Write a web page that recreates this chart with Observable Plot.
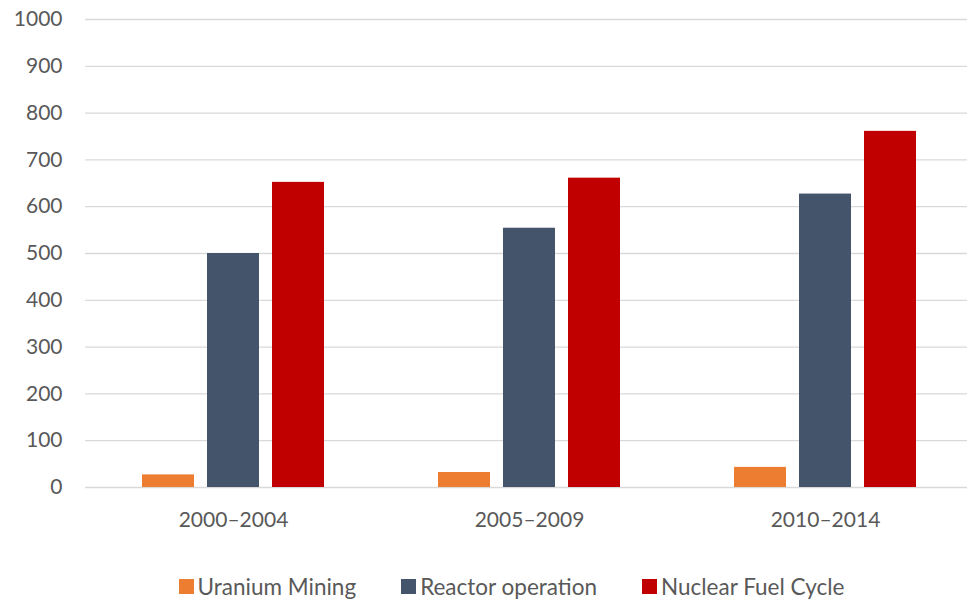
<!DOCTYPE html>
<html><head><meta charset="utf-8">
<script src="https://cdn.jsdelivr.net/npm/d3@7"></script>
<script src="https://cdn.jsdelivr.net/npm/@observablehq/plot@0.6"></script>
<style>
body{margin:0;background:#fff;font-family:Lato,"Open Sans",sans-serif;overflow:hidden;width:967px;}
#chart{width:967px;overflow:hidden;}
#chart svg{max-width:none !important;}
#legend{display:flex;justify-content:center;align-items:center;gap:45px;margin-top:33px;padding-left:56px;font-size:22.5px;color:#595959;}
.item{display:flex;align-items:center;}
.sw{width:15px;height:15px;margin-right:4px;}
</style>
</head><body><div id="chart"></div><div id="legend"></div>
<script>
const periods = ["2000–2004","2005–2009","2010–2014"];
const series = ["Uranium Mining","Reactor operation","Nuclear Fuel Cycle"];
const uraniumMining = [27,32,43];
const reactorOperation = [500,554,627];
const nuclearFuelCycle = [652,661,761];
const colors = ["#ED7D31","#44546A","#C00000"];
const yTicks = [0,100,200,300,400,500,600,700,800,900,1000];

const values = [uraniumMining, reactorOperation, nuclearFuelCycle];
const data = periods.flatMap((p,i)=>series.map((s,j)=>({period:p, series:s, value:values[j][i]})));

const chart = Plot.plot({
  width:973, height:540, marginLeft:85, marginRight:0, marginTop:19, marginBottom:53,
  style:{fontFamily:"Lato, 'Open Sans', sans-serif", fontSize:"21px", color:"#595959", background:"#fff", maxWidth:"none"},
  fx:{domain:periods, padding:0, label:null, axis:"bottom", tickSize:0, tickPadding:25},
  x:{domain:series, paddingInner:0.2, paddingOuter:0.85, axis:null},
  y:{domain:[0,1000], ticks:yTicks, tickFormat:d=>String(d), label:null, tickSize:0, tickPadding:23},
  color:{domain:series, range:colors},
  marks:[
    Plot.ruleY(yTicks,{stroke:"#d9d9d9", strokeWidth:1.3}),
    Plot.barY(data,{fx:"period", x:"series", y:"value", fill:"series"})
  ]
});
document.getElementById("chart").appendChild(chart);

const legend = document.getElementById("legend");
series.forEach((s,i)=>{
  const it = document.createElement("div"); it.className="item";
  const sw = document.createElement("div"); sw.className="sw"; sw.style.background=colors[i];
  const t = document.createElement("span"); t.textContent=s;
  it.appendChild(sw); it.appendChild(t); legend.appendChild(it);
});
</script>
</body></html>
